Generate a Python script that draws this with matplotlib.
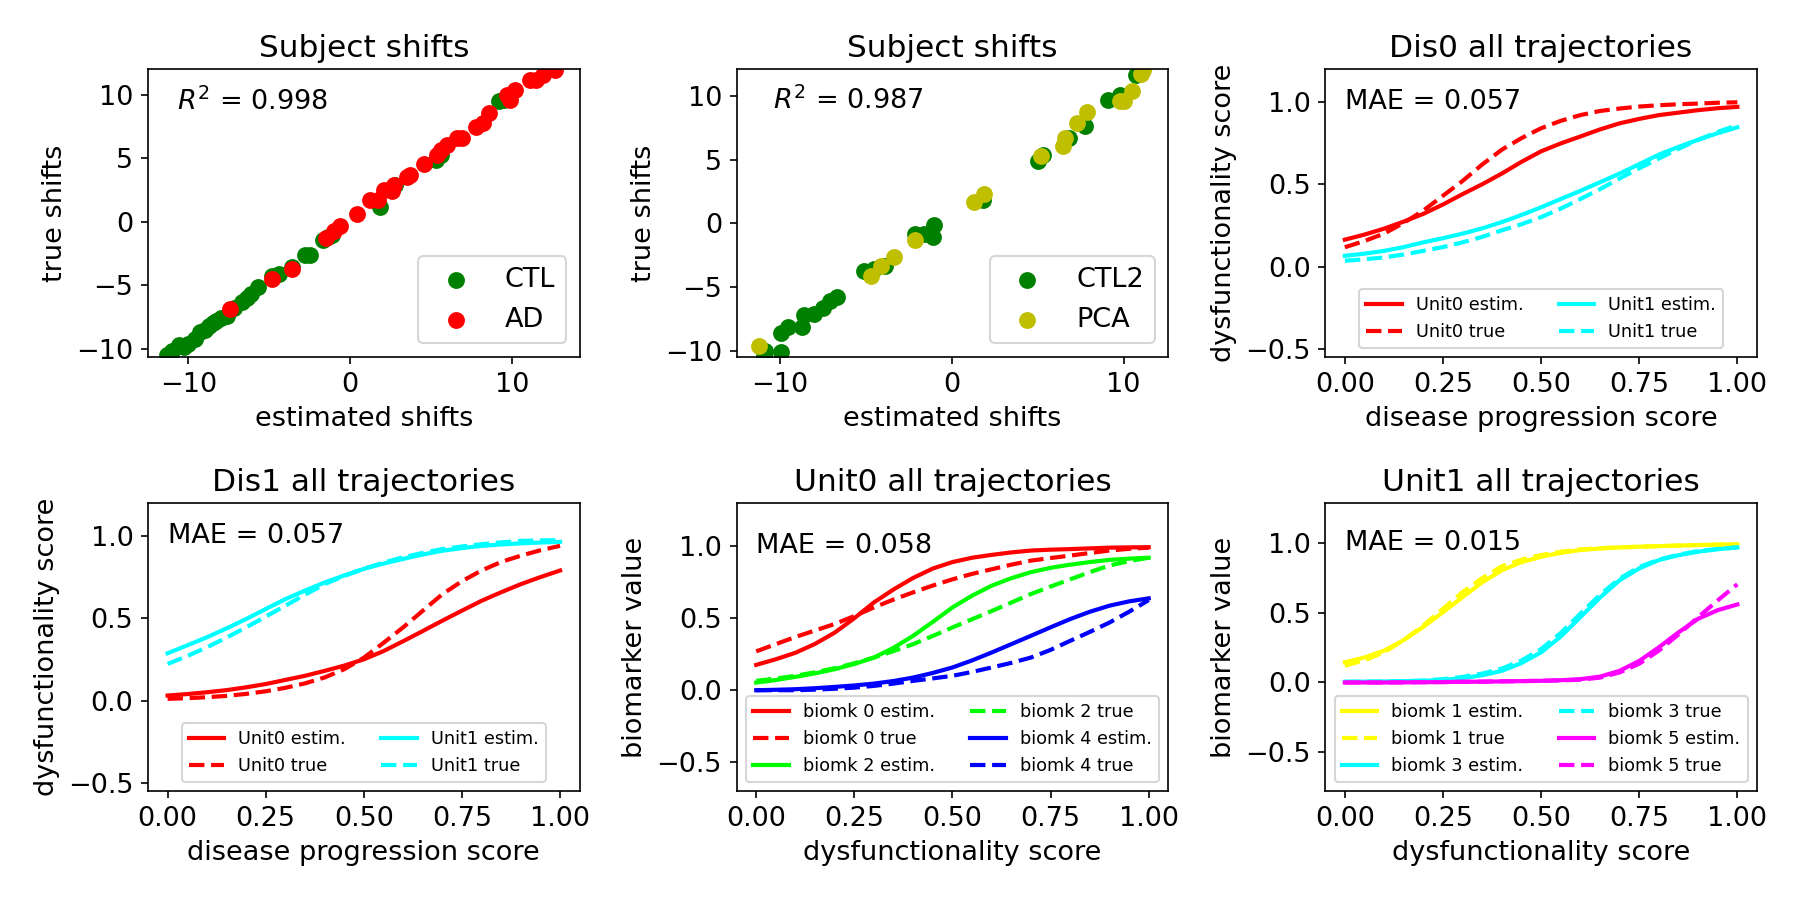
import numpy as np
import matplotlib
matplotlib.use("Agg")
import matplotlib.pyplot as plt

# ---------------- data ----------------
# Panel 1: Subject shifts (CTL vs AD)
ctl_est = [-11.3, -11.0, -10.6, -10.3, -10.0, -9.6, -9.3, -9.0, -8.7, -8.5, -8.3, -8.0,
           -7.6, -7.2, -6.7, -6.4, -6.1, -5.7, -4.8, -4.4, -3.6, -2.8, -2.5, -1.7, -1.35,
           -1.1, 1.85, 2.8, 5.3, 5.6, 9.2, 9.5]
ctl_true = [-10.5, -10.2, -9.7, -9.9, -9.6, -9.2, -8.7, -8.5, -8.2, -8.0, -7.8, -7.6,
            -7.4, -6.8, -6.3, -6.0, -5.7, -5.1, -4.3, -4.1, -3.6, -2.6, -2.6, -1.4, -1.2,
            -1.0, 1.2, 2.9, 4.9, 5.3, 9.5, 9.6]
ad_est = [-7.4, -4.8, -3.6, -1.5, -1.0, -0.6, 0.4, 1.25, 1.7, 2.1, 2.6, 2.7, 3.5, 3.7,
          4.6, 5.4, 5.6, 6.0, 6.6, 6.9, 7.8, 8.2, 8.6, 9.7, 9.9, 10.2, 11.1, 11.5, 11.9, 12.7]
ad_true = [-6.9, -4.5, -3.7, -1.3, -0.7, -0.3, 0.65, 1.7, 1.7, 2.5, 2.4, 2.9, 3.55, 3.7,
           4.6, 5.3, 5.7, 6.05, 6.6, 6.6, 7.5, 7.8, 8.55, 10.0, 9.6, 10.4, 11.2, 11.2, 11.6, 12.0]

# Panel 2: Subject shifts (CTL2 vs PCA)
ctl2_est = [-10.85, -10.9, -9.9, -9.9, -9.5, -8.7, -8.6, -8.0, -7.45, -7.05, -6.65, -5.1,
            -4.5, -3.85, -2.1, -1.6, -1.1, -1.0, 1.8, 5.0, 5.3, 6.85, 7.75, 9.1, 9.8, 10.7]
ctl2_true = [-10.0, -10.4, -10.1, -8.55, -8.15, -8.15, -7.2, -7.1, -6.6, -6.05, -5.8, -3.7,
             -3.55, -3.3, -0.8, -0.8, -1.05, -0.1, 1.85, 4.9, 5.4, 6.7, 7.6, 9.7, 10.1, 11.6]
pca_est = [-11.2, -4.7, -4.1, -3.35, -2.1, 1.3, 1.9, 5.2, 6.5, 6.6, 7.3, 7.85, 9.8, 10.0,
           10.5, 11.0, 11.15]
pca_true = [-9.6, -4.1, -3.3, -2.6, -1.3, 1.7, 2.3, 5.3, 6.1, 6.7, 7.9, 8.7, 9.6, 9.6,
            10.4, 11.7, 12.0]

# trajectory grid
xs = [0.0, 0.05, 0.1, 0.15, 0.2, 0.25, 0.3, 0.35, 0.4, 0.45, 0.5,
      0.55, 0.6, 0.65, 0.7, 0.75, 0.8, 0.85, 0.9, 0.95, 1.0]

# Panel 3: Dis0 all trajectories
dis0_u0_est = [0.163, 0.194, 0.23, 0.273, 0.32, 0.377, 0.44, 0.50, 0.565, 0.636, 0.70,
               0.748, 0.79, 0.833, 0.87, 0.897, 0.92, 0.935, 0.95, 0.962, 0.97]
dis0_u0_true = [0.117, 0.155, 0.20, 0.265, 0.34, 0.43, 0.52, 0.62, 0.71, 0.78, 0.84,
                0.885, 0.92, 0.945, 0.96, 0.972, 0.98, 0.986, 0.99, 0.995, 0.998]
dis0_u1_est = [0.065, 0.078, 0.095, 0.118, 0.147, 0.172, 0.20, 0.232, 0.27, 0.313, 0.36,
               0.41, 0.46, 0.512, 0.565, 0.622, 0.68, 0.727, 0.77, 0.81, 0.846]
dis0_u1_true = [0.035, 0.044, 0.055, 0.073, 0.095, 0.118, 0.147, 0.18, 0.22, 0.257, 0.30,
                0.352, 0.41, 0.47, 0.535, 0.597, 0.656, 0.715, 0.77, 0.818, 0.86]

# Panel 4: Dis1 all trajectories
dis1_u0_est = [0.03, 0.039, 0.05, 0.063, 0.08, 0.10, 0.125, 0.15, 0.18, 0.212, 0.25,
               0.30, 0.36, 0.422, 0.485, 0.546, 0.606, 0.658, 0.707, 0.75, 0.79]
dis1_u0_true = [0.01, 0.014, 0.02, 0.028, 0.04, 0.056, 0.077, 0.104, 0.14, 0.19, 0.26,
                0.35, 0.444, 0.545, 0.646, 0.725, 0.79, 0.842, 0.88, 0.913, 0.94]
dis1_u1_est = [0.287, 0.335, 0.384, 0.438, 0.495, 0.556, 0.616, 0.668, 0.717, 0.76, 0.80,
               0.832, 0.86, 0.887, 0.91, 0.926, 0.94, 0.948, 0.955, 0.96, 0.964]
dis1_u1_true = [0.222, 0.27, 0.323, 0.382, 0.444, 0.51, 0.576, 0.643, 0.707, 0.757, 0.80,
                0.838, 0.87, 0.897, 0.92, 0.936, 0.95, 0.961, 0.97, 0.973, 0.974]

# Panel 5: Unit0 all trajectories
u0_b0_est = [0.176, 0.215, 0.26, 0.322, 0.40, 0.50, 0.61, 0.70, 0.78, 0.845, 0.89,
             0.92, 0.94, 0.957, 0.97, 0.976, 0.98, 0.985, 0.99, 0.992, 0.993]
u0_b0_true = [0.27, 0.32, 0.37, 0.415, 0.46, 0.515, 0.575, 0.63, 0.68, 0.727, 0.77,
              0.808, 0.84, 0.872, 0.90, 0.918, 0.935, 0.953, 0.97, 0.982, 0.99]
u0_b2_est = [0.053, 0.071, 0.093, 0.117, 0.146, 0.182, 0.227, 0.295, 0.378, 0.475, 0.575,
             0.657, 0.726, 0.778, 0.82, 0.85, 0.872, 0.89, 0.905, 0.914, 0.92]
u0_b2_true = [0.065, 0.081, 0.10, 0.125, 0.153, 0.187, 0.227, 0.272, 0.32, 0.377, 0.436,
              0.493, 0.55, 0.609, 0.668, 0.72, 0.77, 0.82, 0.866, 0.897, 0.92]
u0_b4_est = [0.0, 0.003, 0.007, 0.014, 0.023, 0.033, 0.046, 0.064, 0.088, 0.12, 0.158,
             0.207, 0.262, 0.32, 0.378, 0.437, 0.494, 0.545, 0.587, 0.617, 0.638]
u0_b4_true = [0.0, 0.0, 0.0, 0.004, 0.01, 0.018, 0.03, 0.046, 0.065, 0.082, 0.10,
              0.127, 0.158, 0.19, 0.227, 0.28, 0.343, 0.405, 0.47, 0.545, 0.626]

# Panel 6: Unit1 all trajectories
u1_b1_est = [0.145, 0.18, 0.229, 0.305, 0.40, 0.505, 0.614, 0.72, 0.807, 0.865, 0.904,
             0.932, 0.952, 0.963, 0.971, 0.976, 0.98, 0.984, 0.988, 0.991, 0.993]
u1_b1_true = [0.12, 0.16, 0.217, 0.305, 0.41, 0.53, 0.65, 0.75, 0.836, 0.883, 0.916,
              0.94, 0.957, 0.965, 0.971, 0.976, 0.98, 0.984, 0.988, 0.991, 0.993]
u1_b3_est = [0.005, 0.006, 0.007, 0.009, 0.012, 0.019, 0.031, 0.052, 0.084, 0.14, 0.217,
             0.33, 0.47, 0.61, 0.735, 0.82, 0.88, 0.915, 0.94, 0.958, 0.971]
u1_b3_true = [0.005, 0.006, 0.007, 0.01, 0.014, 0.024, 0.04, 0.064, 0.10, 0.158, 0.24,
              0.356, 0.494, 0.63, 0.747, 0.83, 0.884, 0.918, 0.945, 0.96, 0.971]
u1_b5_est = [0.0, 0.0, 0.0, 0.001, 0.002, 0.003, 0.005, 0.006, 0.008, 0.01, 0.012,
             0.016, 0.024, 0.042, 0.084, 0.155, 0.253, 0.36, 0.458, 0.52, 0.561]
u1_b5_true = [0.0, 0.0, 0.0, 0.001, 0.002, 0.003, 0.005, 0.006, 0.008, 0.01, 0.012,
              0.015, 0.02, 0.035, 0.072, 0.135, 0.229, 0.345, 0.47, 0.59, 0.706]

r2_values = ["0.998", "0.987"]
mae_values = ["0.057", "0.057", "0.058", "0.015"]

# ---------------- figure ----------------
plt.rcParams['font.family'] = ['DejaVu Sans']
fig, axes = plt.subplots(2, 3, figsize=(12, 6), dpi=150)
fig.subplots_adjust(left=0.0822, right=0.9761, bottom=0.1211, top=0.9233,
                    wspace=0.3634, hspace=0.507)

TITLE = 15
LAB = 13
TICK = 13
LEG_LINE = 8.5

def style(ax):
    ax.tick_params(labelsize=TICK)

# Panel 1
ax = axes[0, 0]
ax.scatter(ctl_est, ctl_true, c='g', s=50, label='CTL')
ax.scatter(ad_est, ad_true, c='r', s=50, label='AD')
ax.set_xlim(-12.5, 14.2)
ax.set_ylim(-10.66, 12.05)
ax.set_title('Subject shifts', fontsize=TITLE)
ax.set_xlabel('estimated shifts', fontsize=LAB)
ax.set_ylabel('true shifts', fontsize=LAB)
ax.text(0.068, 0.885, '$R^2$ = %s' % r2_values[0], transform=ax.transAxes,
        fontsize=LAB, va='center', ha='left')
ax.legend(loc='lower right', fontsize=13, scatterpoints=1)
style(ax)

# Panel 2
ax = axes[0, 1]
ax.scatter(ctl2_est, ctl2_true, c='g', s=50, label='CTL2')
ax.scatter(pca_est, pca_true, c='y', s=50, label='PCA')
ax.set_xlim(-12.5, 12.6)
ax.set_ylim(-10.47, 12.1)
ax.set_title('Subject shifts', fontsize=TITLE)
ax.set_xlabel('estimated shifts', fontsize=LAB)
ax.set_ylabel('true shifts', fontsize=LAB)
ax.text(0.085, 0.89, '$R^2$ = %s' % r2_values[1], transform=ax.transAxes,
        fontsize=LAB, va='center', ha='left')
ax.legend(loc='lower right', fontsize=13, scatterpoints=1)
style(ax)

LW = 2.0

def traj_panel(ax, series, title, xlabel, ylabel, ylim, mae, ncol=2):
    for ys, col, ls, lab in series:
        ax.plot(xs, ys, color=col, linestyle=ls, linewidth=LW, label=lab)
    ax.set_ylim(*ylim)
    ax.set_title(title, fontsize=TITLE)
    ax.set_xlabel(xlabel, fontsize=LAB)
    ax.set_ylabel(ylabel, fontsize=LAB)
    ax.text(0.0, 1.0, 'MAE = %s' % mae, fontsize=LAB, va='center', ha='left')
    ax.legend(loc='lower center', ncol=ncol, fontsize=LEG_LINE)
    style(ax)

traj_panel(axes[0, 2], [
    (dis0_u0_est, 'r', '-', 'Unit0 estim.'),
    (dis0_u0_true, 'r', '--', 'Unit0 true'),
    (dis0_u1_est, 'cyan', '-', 'Unit1 estim.'),
    (dis0_u1_true, 'cyan', '--', 'Unit1 true'),
], 'Dis0 all trajectories', 'disease progression score', 'dysfunctionality score',
    (-0.55, 1.2), mae_values[0])

traj_panel(axes[1, 0], [
    (dis1_u0_est, 'r', '-', 'Unit0 estim.'),
    (dis1_u0_true, 'r', '--', 'Unit0 true'),
    (dis1_u1_est, 'cyan', '-', 'Unit1 estim.'),
    (dis1_u1_true, 'cyan', '--', 'Unit1 true'),
], 'Dis1 all trajectories', 'disease progression score', 'dysfunctionality score',
    (-0.55, 1.2), mae_values[1])

traj_panel(axes[1, 1], [
    (u0_b0_est, 'r', '-', 'biomk 0 estim.'),
    (u0_b0_true, 'r', '--', 'biomk 0 true'),
    (u0_b2_est, 'lime', '-', 'biomk 2 estim.'),
    (u0_b2_true, 'lime', '--', 'biomk 2 true'),
    (u0_b4_est, 'b', '-', 'biomk 4 estim.'),
    (u0_b4_true, 'b', '--', 'biomk 4 true'),
], 'Unit0 all trajectories', 'dysfunctionality score', 'biomarker value',
    (-0.7, 1.3), mae_values[2])

traj_panel(axes[1, 2], [
    (u1_b1_est, 'yellow', '-', 'biomk 1 estim.'),
    (u1_b1_true, 'yellow', '--', 'biomk 1 true'),
    (u1_b3_est, 'cyan', '-', 'biomk 3 estim.'),
    (u1_b3_true, 'cyan', '--', 'biomk 3 true'),
    (u1_b5_est, 'magenta', '-', 'biomk 5 estim.'),
    (u1_b5_true, 'magenta', '--', 'biomk 5 true'),
], 'Unit1 all trajectories', 'dysfunctionality score', 'biomarker value',
    (-0.78, 1.29), mae_values[3])

fig.savefig('out.png', dpi=150)
